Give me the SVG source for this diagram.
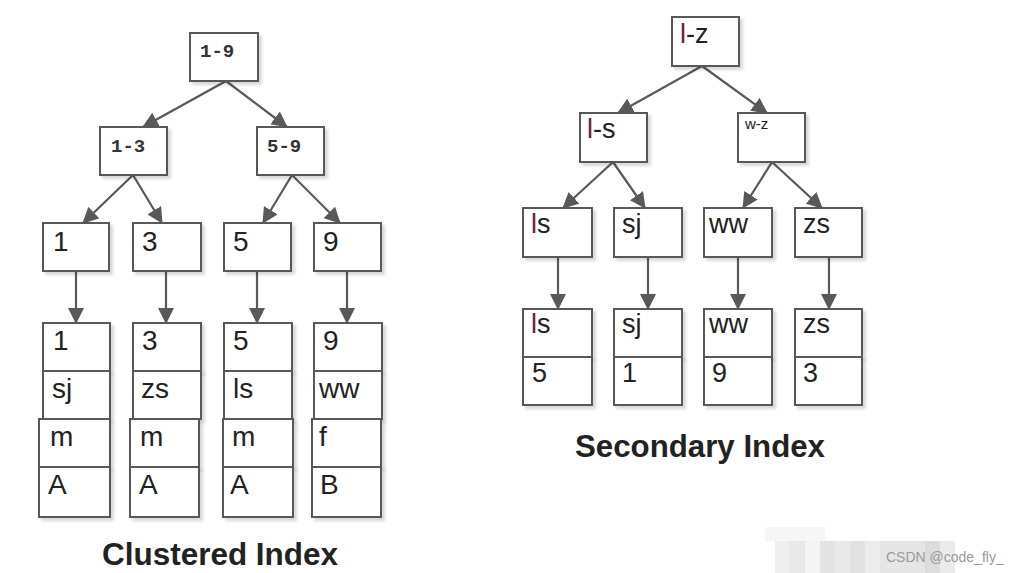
<svg xmlns="http://www.w3.org/2000/svg" width="1019" height="573" viewBox="0 0 1019 573">
<defs>
<style>
.bx{fill:#fff;stroke:#595959;stroke-width:2;filter:url(#sh)}
.t{font-family:"Liberation Sans",Arial,sans-serif;font-size:28px;fill:#222}
.ts{font-family:"Liberation Sans",Arial,sans-serif;font-size:27px;fill:#222}
.m{font-family:"Liberation Mono","DejaVu Sans Mono",monospace;font-size:19px;font-weight:bold;fill:#333}
.l{fill:#6b2040}
.ttl{font-family:"Liberation Sans",Arial,sans-serif;font-size:31px;font-weight:bold;fill:#222}
.c{stroke:#595959;stroke-width:2.2;fill:none;marker-end:url(#ah)}
</style>
<filter id="sh" x="-10%" y="-10%" width="130%" height="130%">
<feDropShadow dx="3" dy="3" stdDeviation="1.5" flood-color="#000" flood-opacity="0.15"/>
</filter>
<marker id="ah" viewBox="0 0 16 16" refX="15" refY="8" markerWidth="16" markerHeight="16" markerUnits="userSpaceOnUse" orient="auto">
<path d="M0,0 L16,8 L0,16 Z" fill="#595959"/>
</marker>
</defs>
<rect width="1019" height="573" fill="#fff"/>

<g id="connectors">
<path class="c" d="M226,81 L143,127"/>
<path class="c" d="M226,81 L287,127"/>
<path class="c" d="M133,175 L83,223"/>
<path class="c" d="M133,175 L162,223"/>
<path class="c" d="M292,175 L263,223"/>
<path class="c" d="M292,175 L340,223"/>
<path class="c" d="M76,271 L76,323"/>
<path class="c" d="M166,271 L166,323"/>
<path class="c" d="M257,271 L257,323"/>
<path class="c" d="M347,271 L347,323"/>
<path class="c" d="M702,66 L618,113"/>
<path class="c" d="M702,66 L767,113"/>
<path class="c" d="M613,162 L563,208"/>
<path class="c" d="M613,162 L645,208"/>
<path class="c" d="M772,162 L743,208"/>
<path class="c" d="M772,162 L822,208"/>
<path class="c" d="M558,257 L558,309"/>
<path class="c" d="M648,257 L648,309"/>
<path class="c" d="M738,257 L738,309"/>
<path class="c" d="M829,257 L829,309"/>
</g>

<g id="c-root"><rect class="bx" x="190" y="33" width="68" height="48"/><text class="m" x="200" y="57">1-9</text></g>
<g id="c-13"><rect class="bx" x="100" y="127" width="67" height="48"/><text class="m" x="111" y="152">1-3</text></g>
<g id="c-59"><rect class="bx" x="257" y="127" width="67" height="48"/><text class="m" x="267" y="152">5-9</text></g>

<g id="c-n1"><rect class="bx" x="43" y="223" width="66" height="48"/><text class="t" x="53" y="251">1</text></g>
<g id="c-n3"><rect class="bx" x="133" y="223" width="68" height="48"/><text class="t" x="142" y="251">3</text></g>
<g id="c-n5"><rect class="bx" x="224" y="223" width="67" height="48"/><text class="t" x="233" y="251">5</text></g>
<g id="c-n9"><rect class="bx" x="314" y="223" width="67" height="48"/><text class="t" x="323" y="251">9</text></g>

<g id="c-leaf1">
<rect class="bx" x="43" y="323" width="67" height="48"/><text class="t" x="53" y="350">1</text>
<rect class="bx" x="43" y="371" width="67" height="48"/><text class="t" x="52" y="398">sj</text>
<rect class="bx" x="39" y="419" width="71" height="48"/><text class="t" x="50" y="446">m</text>
<rect class="bx" x="39" y="467" width="71" height="50"/><text class="t" x="48" y="494">A</text>
</g>
<g id="c-leaf3">
<rect class="bx" x="133" y="323" width="68" height="48"/><text class="t" x="142" y="350">3</text>
<rect class="bx" x="133" y="371" width="68" height="48"/><text class="t" x="141" y="398">zs</text>
<rect class="bx" x="130" y="419" width="69" height="48"/><text class="t" x="140" y="446">m</text>
<rect class="bx" x="130" y="467" width="69" height="50"/><text class="t" x="139" y="494">A</text>
</g>
<g id="c-leaf5">
<rect class="bx" x="224" y="323" width="68" height="48"/><text class="t" x="233" y="350">5</text>
<rect class="bx" x="224" y="371" width="68" height="48"/><text class="t" x="233" y="398">ls</text>
<rect class="bx" x="223" y="419" width="70" height="48"/><text class="t" x="232" y="446">m</text>
<rect class="bx" x="223" y="467" width="70" height="50"/><text class="t" x="230" y="494">A</text>
</g>
<g id="c-leaf9">
<rect class="bx" x="314" y="323" width="68" height="48"/><text class="t" x="323" y="350">9</text>
<rect class="bx" x="314" y="371" width="68" height="48"/><text class="t" x="319" y="398">ww</text>
<rect class="bx" x="312" y="419" width="69" height="48"/><text class="t" x="319" y="446">f</text>
<rect class="bx" x="312" y="467" width="69" height="50"/><text class="t" x="320" y="494">B</text>
</g>

<g id="s-root"><rect class="bx" x="672" y="17" width="67" height="49"/><text class="ts" x="680" y="43"><tspan class="l">l</tspan>-z</text></g>
<g id="s-ls"><rect class="bx" x="580" y="113" width="67" height="49"/><text class="ts" x="587" y="138"><tspan class="l">l</tspan>-s</text></g>
<g id="s-wz"><rect class="bx" x="738" y="113" width="67" height="49"/><text class="t" x="745" y="129" style="font-size:15px">w-z</text></g>

<g id="s-n-ls"><rect class="bx" x="523" y="208" width="69" height="49"/><text class="ts" x="531" y="233"><tspan class="l">l</tspan>s</text></g>
<g id="s-n-sj"><rect class="bx" x="614" y="208" width="68" height="49"/><text class="ts" x="622" y="233">sj</text></g>
<g id="s-n-ww"><rect class="bx" x="704" y="208" width="68" height="49"/><text class="ts" x="709" y="233">ww</text></g>
<g id="s-n-zs"><rect class="bx" x="795" y="208" width="67" height="49"/><text class="ts" x="803" y="233">zs</text></g>

<g id="s-leaf-ls">
<rect class="bx" x="523" y="309" width="69" height="48"/><text class="ts" x="531" y="333"><tspan class="l">l</tspan>s</text>
<rect class="bx" x="523" y="357" width="69" height="48"/><text class="ts" x="532" y="382">5</text>
</g>
<g id="s-leaf-sj">
<rect class="bx" x="614" y="309" width="68" height="48"/><text class="ts" x="622" y="333">sj</text>
<rect class="bx" x="614" y="357" width="68" height="48"/><text class="ts" x="622" y="382">1</text>
</g>
<g id="s-leaf-ww">
<rect class="bx" x="704" y="309" width="68" height="48"/><text class="ts" x="709" y="333">ww</text>
<rect class="bx" x="704" y="357" width="68" height="48"/><text class="ts" x="712" y="382">9</text>
</g>
<g id="s-leaf-zs">
<rect class="bx" x="795" y="309" width="67" height="48"/><text class="ts" x="803" y="333">zs</text>
<rect class="bx" x="795" y="357" width="67" height="48"/><text class="ts" x="803" y="382">3</text>
</g>

<text class="ttl" x="102" y="565" textLength="236" lengthAdjust="spacingAndGlyphs">Clustered Index</text>
<text class="ttl" x="575" y="457" textLength="250" lengthAdjust="spacingAndGlyphs">Secondary Index</text>

<g id="watermark">
<rect x="765" y="527" width="60" height="14" fill="#f6f6f6"/>
<rect x="775" y="541" width="15" height="32" fill="#eeeeee"/>
<rect x="790" y="541" width="15" height="32" fill="#e8e8e8"/>
<rect x="805" y="541" width="15" height="32" fill="#f4f4f4"/>
<rect x="820" y="541" width="15" height="32" fill="#e4e4e4"/>
<rect x="835" y="541" width="15" height="32" fill="#e9e9e9"/>
<rect x="850" y="541" width="15" height="32" fill="#e2e2e2"/>
<rect x="865" y="541" width="15" height="32" fill="#ececec"/>
<rect x="880" y="541" width="45" height="32" fill="#e6e6e6"/>
<rect x="925" y="541" width="15" height="32" fill="#dcdcdc"/>
<rect x="940" y="541" width="15" height="32" fill="#ebebeb"/>
<text x="886" y="562" font-family="Liberation Sans,Arial,sans-serif" font-size="14" fill="#9a9a9a">CSDN @code_fly_</text>
</g>
</svg>
